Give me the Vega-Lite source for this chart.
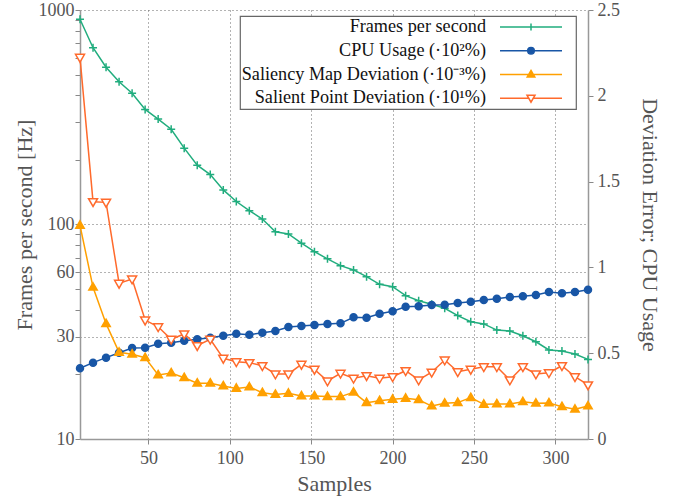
{
  "$schema": "https://vega.github.io/schema/vega-lite/v6.json",
  "width": 508,
  "height": 429,
  "autosize": {"type": "none"},
  "padding": {"left": 80, "top": 10, "right": 86, "bottom": 64},
  "background": "white",
  "config": {
    "view": {"stroke": null},
    "font": "Liberation Serif",
    "axis": {
      "labelFont": "Liberation Serif",
      "titleFont": "Liberation Serif",
      "labelFontSize": 18,
      "titleFontSize": 22,
      "titleFontWeight": "normal",
      "labelColor": "#555555",
      "titleColor": "#555555",
      "domainColor": "#999999",
      "domainWidth": 1.5,
      "tickColor": "#888888",
      "tickSize": 5,
      "gridColor": "#666666",
      "gridDash": [1, 3],
      "gridWidth": 1
    },
    "legend": {
      "labelFont": "Liberation Serif",
      "labelFontSize": 18.2,
      "labelColor": "#111111",
      "labelLimit": 400
    }
  },
  "data": {
    "values": [
      {"sample": 8, "fps": 905, "cpu": 0.412, "smd": 1.245, "spd": 2.224},
      {"sample": 16, "fps": 667, "cpu": 0.445, "smd": 0.884, "spd": 1.383},
      {"sample": 24, "fps": 541, "cpu": 0.474, "smd": 0.672, "spd": 1.379},
      {"sample": 32, "fps": 463, "cpu": 0.503, "smd": 0.505, "spd": 0.907},
      {"sample": 40, "fps": 409, "cpu": 0.530, "smd": 0.494, "spd": 0.932},
      {"sample": 48, "fps": 344, "cpu": 0.532, "smd": 0.474, "spd": 0.693},
      {"sample": 56, "fps": 310, "cpu": 0.555, "smd": 0.373, "spd": 0.654},
      {"sample": 64, "fps": 278, "cpu": 0.561, "smd": 0.385, "spd": 0.581},
      {"sample": 72, "fps": 227, "cpu": 0.573, "smd": 0.357, "spd": 0.612},
      {"sample": 80, "fps": 189, "cpu": 0.581, "smd": 0.325, "spd": 0.544},
      {"sample": 88, "fps": 171, "cpu": 0.590, "smd": 0.325, "spd": 0.581},
      {"sample": 96, "fps": 145, "cpu": 0.602, "smd": 0.309, "spd": 0.470},
      {"sample": 104, "fps": 128, "cpu": 0.614, "smd": 0.295, "spd": 0.450},
      {"sample": 112, "fps": 116, "cpu": 0.608, "smd": 0.303, "spd": 0.445},
      {"sample": 120, "fps": 106, "cpu": 0.619, "smd": 0.270, "spd": 0.427},
      {"sample": 128, "fps": 92.5, "cpu": 0.629, "smd": 0.260, "spd": 0.379},
      {"sample": 136, "fps": 90.3, "cpu": 0.653, "smd": 0.266, "spd": 0.379},
      {"sample": 144, "fps": 81.8, "cpu": 0.659, "smd": 0.251, "spd": 0.435},
      {"sample": 152, "fps": 74.7, "cpu": 0.664, "smd": 0.251, "spd": 0.406},
      {"sample": 160, "fps": 69.2, "cpu": 0.670, "smd": 0.247, "spd": 0.338},
      {"sample": 168, "fps": 64.3, "cpu": 0.674, "smd": 0.247, "spd": 0.383},
      {"sample": 176, "fps": 61.4, "cpu": 0.709, "smd": 0.272, "spd": 0.354},
      {"sample": 184, "fps": 57.1, "cpu": 0.707, "smd": 0.212, "spd": 0.369},
      {"sample": 192, "fps": 52.6, "cpu": 0.730, "smd": 0.223, "spd": 0.354},
      {"sample": 200, "fps": 51.3, "cpu": 0.744, "smd": 0.231, "spd": 0.363},
      {"sample": 208, "fps": 46.6, "cpu": 0.771, "smd": 0.237, "spd": 0.398},
      {"sample": 216, "fps": 44.1, "cpu": 0.773, "smd": 0.229, "spd": 0.344},
      {"sample": 224, "fps": 42.5, "cpu": 0.781, "smd": 0.192, "spd": 0.389},
      {"sample": 232, "fps": 40.7, "cpu": 0.783, "smd": 0.208, "spd": 0.460},
      {"sample": 240, "fps": 37.6, "cpu": 0.793, "smd": 0.212, "spd": 0.392},
      {"sample": 248, "fps": 35.2, "cpu": 0.800, "smd": 0.241, "spd": 0.406},
      {"sample": 256, "fps": 34.4, "cpu": 0.810, "smd": 0.202, "spd": 0.421},
      {"sample": 264, "fps": 32.2, "cpu": 0.818, "smd": 0.204, "spd": 0.421},
      {"sample": 272, "fps": 31.9, "cpu": 0.828, "smd": 0.204, "spd": 0.344},
      {"sample": 280, "fps": 30.3, "cpu": 0.832, "smd": 0.217, "spd": 0.421},
      {"sample": 288, "fps": 28.4, "cpu": 0.839, "smd": 0.208, "spd": 0.379},
      {"sample": 296, "fps": 26.0, "cpu": 0.857, "smd": 0.210, "spd": 0.386},
      {"sample": 304, "fps": 25.7, "cpu": 0.849, "smd": 0.188, "spd": 0.427},
      {"sample": 312, "fps": 24.9, "cpu": 0.857, "smd": 0.173, "spd": 0.363},
      {"sample": 320, "fps": 23.5, "cpu": 0.870, "smd": 0.192, "spd": 0.315}
    ]
  },
  "transform": [{"fold": ["fps", "cpu", "smd", "spd"], "as": ["series", "value"]}],
  "encoding": {
    "x": {
      "field": "sample",
      "type": "quantitative",
      "scale": {"domain": [8, 320], "nice": false, "zero": false},
      "axis": {
        "title": "Samples",
        "values": [50, 100, 150, 200, 250, 300],
        "grid": true,
        "labelPadding": 5,
        "titlePadding": 6
      }
    }
  },
  "layer": [
    {
      "transform": [{"filter": "datum.series === 'fps'"}],
      "encoding": {
        "y": {
          "field": "value",
          "type": "quantitative",
          "scale": {"type": "log", "domain": [10, 1000], "nice": false},
          "axis": {
            "orient": "left",
            "title": "Frames per second [Hz]",
            "values": [10, 20, 30, 40, 50, 60, 70, 80, 90, 100, 200, 300, 400, 500, 600, 700, 800, 900, 1000],
            "labelExpr": "indexof([10, 30, 60, 100, 1000], datum.value) >= 0 ? '' + datum.value : ''",
            "labelOverlap": false,
            "labelPadding": 1,
            "titlePadding": 2,
            "grid": true,
            "gridOpacity": {"condition": {"test": "indexof([30, 60, 100, 1000], datum.value) >= 0", "value": 1}, "value": 0}
          }
        }
      },
      "layer": [
        {
          "mark": {"type": "line", "strokeWidth": 1.5},
          "encoding": {
            "color": {
              "field": "series",
              "type": "nominal",
              "scale": {
                "domain": ["fps", "cpu", "smd", "spd"],
                "range": ["#21ad7e", "#1856a6", "#ffa000", "#ff6a2c"]
              },
              "legend": {
                "title": null,
                "orient": "none",
                "legendX": 160,
                "legendY": 6,
                "padding": 2,
                "rowPadding": 4.7,
                "fillColor": "white",
                "strokeColor": "#666666",
                "labelAlign": "right",
                "symbolStrokeWidth": 1.5,
                "labelExpr": "datum.value === 'fps' ? 'Frames per second' : datum.value === 'cpu' ? 'CPU Usage (·10²%)' : datum.value === 'smd' ? 'Saliency Map Deviation (·10⁻³%)' : 'Salient Point Deviation (·10¹%)'",
                "encode": {
                  "legend": {"update": {"strokeWidth": {"value": 1.2}}},
                  "symbols": {
                    "update": {
                      "shape": {"signal": "datum.value === 'fps' ? 'M-31,0H31M0,-3.5V3.5M40,0' : datum.value === 'cpu' ? 'M-31,0H31M3.3,0A3.3,3.3,0,1,1,-3.3,0A3.3,3.3,0,1,1,3.3,0ZM40,0' : datum.value === 'smd' ? 'M-31,0H31M0,-4L3.8,2.5L-3.8,2.5ZM40,0' : 'M-31,0H-2.5M2.5,0H31M-4,-3L4,-3L0,4ZM40,0'"},
                      "fill": {"signal": "datum.value === 'cpu' ? '#1856a6' : datum.value === 'smd' ? '#ffa000' : datum.value === 'spd' ? 'white' : 'transparent'"},
                      "size": {"value": 4},
                      "x": {"value": 289},
                      "strokeWidth": {"value": 1.5},
                      "opacity": {"value": 1}
                    }
                  },
                  "labels": {
                    "update": {
                      "x": {"value": 244},
                      "align": {"value": "right"}
                    }
                  }
                }
              }
            }
          }
        },
        {
          "mark": {"type": "point", "shape": "M-4,0H4M0,-4V4", "size": 4, "strokeWidth": 1.5, "opacity": 1, "filled": false, "fill": "transparent", "stroke": "#21ad7e"}
        }
      ]
    },
    {
      "transform": [{"filter": "datum.series !== 'fps'"}],
      "encoding": {
        "y": {
          "field": "value",
          "type": "quantitative",
          "scale": {"domain": [0, 2.5], "nice": false, "zero": false},
          "axis": {
            "orient": "right",
            "title": "Deviation Error; CPU Usage",
            "values": [0, 0.5, 1, 1.5, 2, 2.5],
            "labelExpr": "'' + datum.value",
            "labelPadding": 4,
            "titlePadding": 18,
            "grid": false
          }
        }
      },
      "layer": [
        {
          "mark": {"type": "line", "strokeWidth": 1.5},
          "encoding": {
            "color": {
              "field": "series",
              "type": "nominal",
              "scale": {
                "domain": ["fps", "cpu", "smd", "spd"],
                "range": ["#21ad7e", "#1856a6", "#ffa000", "#ff6a2c"]
              }
            }
          }
        },
        {
          "transform": [{"filter": "datum.series === 'cpu'"}],
          "mark": {"type": "point", "shape": "M3.5,0A3.5,3.5,0,1,1,-3.5,0A3.5,3.5,0,1,1,3.5,0Z", "size": 4, "strokeWidth": 1.5, "opacity": 1, "filled": true, "fill": "#1856a6", "stroke": "#1856a6"}
        },
        {
          "transform": [{"filter": "datum.series === 'smd'"}],
          "mark": {"type": "point", "shape": "M0,-4.5L4.2,2.8L-4.2,2.8Z", "size": 4, "strokeWidth": 1.5, "opacity": 1, "filled": true, "fill": "#ffa000", "stroke": "#ffa000"}
        },
        {
          "transform": [{"filter": "datum.series === 'spd'"}],
          "mark": {"type": "point", "shape": "M-4.5,-3L4.5,-3L0,4.8Z", "size": 4, "strokeWidth": 1.5, "opacity": 1, "filled": false, "fill": "white", "stroke": "#ff6a2c"}
        }
      ]
    }
  ],
  "resolve": {"scale": {"y": "independent"}}
}
